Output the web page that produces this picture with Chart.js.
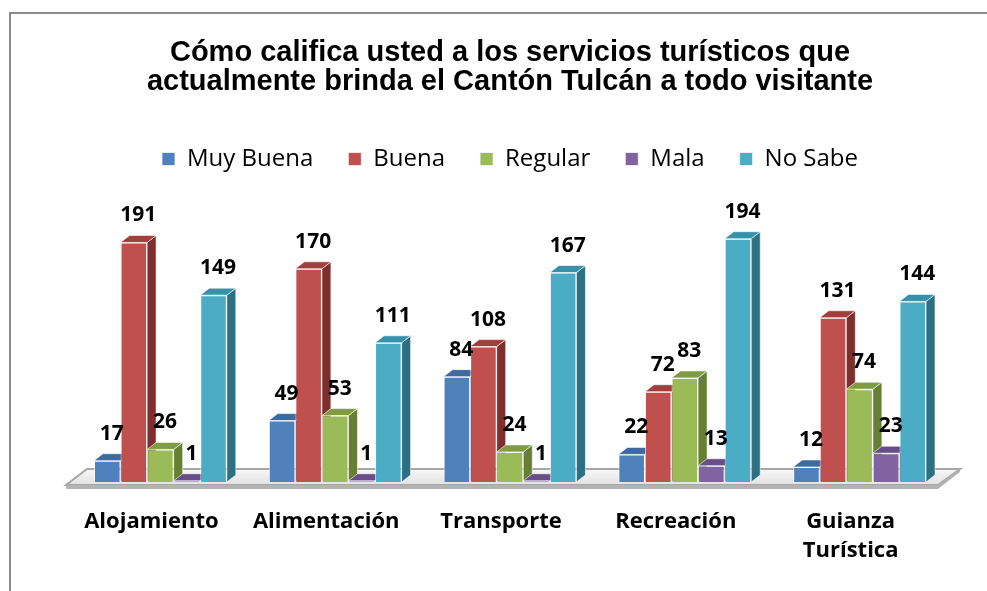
<!DOCTYPE html>
<html>
<head>
<meta charset="utf-8">
<script src="https://cdn.jsdelivr.net/npm/chart.js@4.4.1/dist/chart.umd.min.js"></script>
<style>
  html, body { margin: 0; padding: 0; background: #fff; }
  #wrap { width: 987px; height: 591px; }
</style>
</head>
<body>
<div id="wrap"><canvas id="chart"></canvas></div>
<script>
const titleLines = [
  "Cómo califica usted a los servicios turísticos que",
  "actualmente brinda el Cantón Tulcán a todo visitante"
]
const categories = ["Alojamiento", "Alimentación", "Transporte", "Recreación", ["Guianza", "Turística"]]
const seriesNames = ["Muy Buena", "Buena", "Regular", "Mala", "No Sabe"]

const muyBuena = [17, 49, 84, 22, 12]
const buena = [191, 170, 108, 72, 131]
const regular = [26, 53, 24, 83, 74]
const mala = [1, 1, 1, 13, 23]
const noSabe = [149, 111, 167, 194, 144]

const frontColors = ["#4F81BD", "#C0504D", "#9BBB59", "#8064A2", "#4BACC6"]
const topColors = ["#3D6A9F", "#A23F3C", "#7F9C45", "#684E88", "#3891AA"]
const sideColors = ["#2E5079", "#7E2F2D", "#667F33", "#4F3A69", "#2B7083"]

// depth of the fake 3D boxes
const DX = 9
const DY = -7

const bars3d = {
  id: "bars3d",
  beforeDraw(chart) {
    const ctx = chart.ctx
    ctx.save()
    ctx.strokeStyle = "#8c8c8c"
    ctx.lineWidth = 2
    ctx.strokeRect(10, 13, chart.width + 20, chart.height + 20)
    ctx.restore()
  },
  beforeDatasetsDraw(chart) {
    const ctx = chart.ctx
    const area = chart.chartArea
    const base = chart.scales.y.getPixelForValue(0)

    // floor
    ctx.save()
    ctx.beginPath()
    ctx.moveTo(area.left - 7, base + 3)
    ctx.lineTo(area.right - 9, base + 3)
    ctx.lineTo(area.right + 13, base - 13)
    ctx.lineTo(area.left + 14, base - 13)
    ctx.closePath()
    const grad = ctx.createLinearGradient(0, base - 13, 0, base + 3)
    grad.addColorStop(0, "#f7f7f7")
    grad.addColorStop(1, "#e2e2e2")
    ctx.fillStyle = grad
    ctx.fill()
    ctx.strokeStyle = "#a6a6a6"
    ctx.lineWidth = 2
    ctx.stroke()
    ctx.fillStyle = "#b3b3b3"
    ctx.beginPath()
    ctx.moveTo(area.left - 7, base + 3)
    ctx.lineTo(area.right - 9, base + 3)
    ctx.lineTo(area.right + 13, base - 13)
    ctx.lineTo(area.right + 13, base - 10)
    ctx.lineTo(area.right - 9, base + 7)
    ctx.lineTo(area.left - 7, base + 7)
    ctx.closePath()
    ctx.fill()

    // top and side faces, the front faces are drawn by Chart.js over them
    ctx.strokeStyle = "rgba(255,255,255,0.6)"
    ctx.lineWidth = 1
    chart.data.datasets.forEach((ds, i) => {
      chart.getDatasetMeta(i).data.forEach((bar) => {
        const left = bar.x - bar.width / 2
        const right = bar.x + bar.width / 2
        const top = bar.y
        const bottom = bar.base

        ctx.fillStyle = sideColors[i]
        ctx.beginPath()
        ctx.moveTo(right, top)
        ctx.lineTo(right + DX, top + DY)
        ctx.lineTo(right + DX, bottom + DY)
        ctx.lineTo(right, bottom)
        ctx.closePath()
        ctx.fill()
        ctx.stroke()

        ctx.fillStyle = topColors[i]
        ctx.beginPath()
        ctx.moveTo(left, top)
        ctx.lineTo(left + DX, top + DY)
        ctx.lineTo(right + DX, top + DY)
        ctx.lineTo(right, top)
        ctx.closePath()
        ctx.fill()
        ctx.stroke()
      })
    })
    ctx.restore()
  },
  afterDatasetsDraw(chart) {
    const ctx = chart.ctx
    ctx.save()
    ctx.font = "bold 21px 'Open Sans'"
    ctx.fillStyle = "#000"
    ctx.textAlign = "center"
    ctx.textBaseline = "middle"
    chart.data.datasets.forEach((ds, i) => {
      chart.getDatasetMeta(i).data.forEach((bar, j) => {
        ctx.fillText(ds.data[j], bar.x + DX / 2, bar.y + DY - 20)
      })
    })
    ctx.restore()
  }
}

const seriesValues = [muyBuena, buena, regular, mala, noSabe]

new Chart(document.getElementById("chart"), {
  type: "bar",
  data: {
    labels: categories,
    datasets: seriesValues.map((values, i) => ({
      label: seriesNames[i],
      data: values,
      backgroundColor: frontColors[i],
      borderColor: "rgba(255,255,255,0.7)",
      borderWidth: 1,
      categoryPercentage: 0.76,
      barPercentage: 1
    }))
  },
  options: {
    responsive: true,
    maintainAspectRatio: false,
    animation: false,
    events: [],
    layout: {
      padding: { left: 73, right: 40, top: 0, bottom: 0 }
    },
    plugins: {
      title: {
        display: true,
        text: titleLines,
        color: "#000",
        font: { family: "'Liberation Sans', Arial", size: 29, weight: "bold", lineHeight: 1.0 },
        padding: { top: 38.5, bottom: 15.5 }
      },
      legend: {
        labels: {
          boxWidth: 13,
          boxHeight: 13,
          padding: 35,
          color: "#000",
          font: { family: "'Open Sans'", size: 24 }
        }
      },
      tooltip: { enabled: false }
    },
    scales: {
      x: {
        grid: { display: false, drawTicks: false },
        border: { display: false },
        ticks: {
          padding: 25.5,
          labelOffset: -9,
          color: "#000",
          font: { family: "'Open Sans'", size: 22, weight: "bold", lineHeight: 1.318 }
        }
      },
      y: {
        display: false,
        min: 0,
        max: 240
      }
    }
  },
  plugins: [bars3d]
})
</script>
</body>
</html>
